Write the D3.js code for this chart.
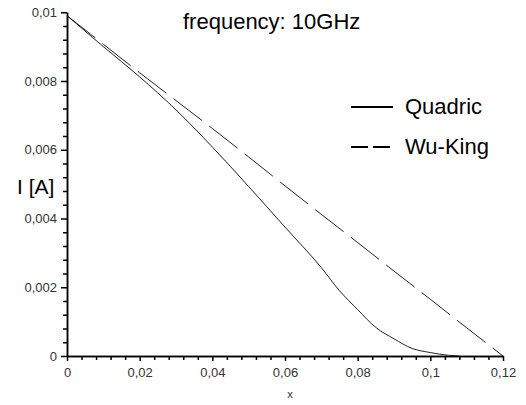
<!DOCTYPE html>
<html>
<head>
<meta charset="utf-8">
<script src="https://cdn.jsdelivr.net/npm/d3@7"></script>
<style>
  body { margin: 0; background: #fff; }
  svg { display: block; font-family: "Liberation Sans", Arial, sans-serif; }
</style>
</head>
<body>
<div id="chart"></div>
<script>
// values
const quadricX = [0, 0.01, 0.02, 0.03, 0.04, 0.05, 0.06, 0.07, 0.075, 0.08, 0.085, 0.09, 0.095, 0.1, 0.105, 0.108];
const quadricI = [0.0099, 0.0090, 0.00812, 0.00716, 0.00608, 0.00493, 0.00375, 0.00257, 0.0019, 0.00135, 0.00083, 0.0005, 0.00022, 0.0001, 0.00002, 0];
const wuKingX = [0, 0.01, 0.02, 0.03, 0.04, 0.05, 0.06, 0.07, 0.08, 0.09, 0.1, 0.11, 0.12];
const wuKingI = [0.0099, 0.00907, 0.00824, 0.00743, 0.00662, 0.00579, 0.00495, 0.00412, 0.0033, 0.00247, 0.00165, 0.00082, 0];
const xTicks = [0, 0.02, 0.04, 0.06, 0.08, 0.1, 0.12];
const xTickLabels = ['0', '0,02', '0,04', '0,06', '0,08', '0,1', '0,12'];
const yTicks = [0, 0.002, 0.004, 0.006, 0.008, 0.01];
const yTickLabels = ['0', '0,002', '0,004', '0,006', '0,008', '0,01'];
const seriesNames = ['Quadric', 'Wu-King'];

const width = 526;
const height = 405;

const svg = d3
  .select('#chart')
  .append('svg')
  .attr('width', width)
  .attr('height', height);

const xScale = d3.scaleLinear().domain([0, 0.12]).range([67, 503]);
const yScale = d3.scaleLinear().domain([0, 0.01]).range([356, 12.25]);

// minor ticks: 4 between each major
const xMinor = d3.range(0, 0.1201, 0.004).filter((v) => Math.abs(v / 0.02 - Math.round(v / 0.02)) > 1e-6);
const yMinor = d3.range(0, 0.01001, 0.0004).filter((v) => Math.abs(v / 0.002 - Math.round(v / 0.002)) > 1e-6);

function styleAxis(g) {
  g.select('.domain').attr('stroke', '#000').attr('stroke-width', 1.5);
  g.selectAll('.tick line').attr('stroke', '#000').attr('stroke-width', 1.5);
  g.selectAll('.tick text').attr('fill', '#333').style('font-size', '13px').style('font-family', '"Liberation Sans", Arial, sans-serif');
}

svg
  .append('g')
  .attr('transform', `translate(0,${yScale(0)})`)
  .call(d3.axisBottom(xScale).tickValues(xMinor).tickSize(4).tickSizeOuter(0).tickFormat(''))
  .call(styleAxis);

svg
  .append('g')
  .attr('transform', `translate(0,${yScale(0)})`)
  .call(
    d3
      .axisBottom(xScale)
      .tickValues(xTicks)
      .tickSize(5)
      .tickSizeOuter(0)
      .tickPadding(7)
      .tickFormat((d, i) => xTickLabels[i])
  )
  .call(styleAxis);

svg
  .append('g')
  .attr('transform', `translate(${xScale(0)},0)`)
  .call(d3.axisLeft(yScale).tickValues(yMinor).tickSize(4).tickSizeOuter(0).tickFormat(''))
  .call(styleAxis);

svg
  .append('g')
  .attr('transform', `translate(${xScale(0)},0)`)
  .call(
    d3
      .axisLeft(yScale)
      .tickValues(yTicks)
      .tickSize(6)
      .tickSizeOuter(0)
      .tickPadding(4)
      .tickFormat((d, i) => yTickLabels[i])
  )
  .call(styleAxis);

const line = d3
  .line()
  .curve(d3.curveMonotoneX)
  .x((d) => xScale(d[0]))
  .y((d) => yScale(d[1]));

svg
  .append('path')
  .datum(d3.zip(quadricX, quadricI))
  .attr('fill', 'none')
  .attr('stroke', '#222')
  .attr('stroke-width', 1)
  .attr('d', line);

svg
  .append('path')
  .datum(d3.zip(wuKingX, wuKingI))
  .attr('fill', 'none')
  .attr('stroke', '#222')
  .attr('stroke-width', 1)
  .attr('stroke-dasharray', '36,9')
  .attr('d', line);

// title
svg
  .append('text')
  .attr('x', 183)
  .attr('y', 29)
  .style('font-size', '22px')
  .style('fill', '#000')
  .text('frequency: 10GHz');

// legend
const legend = svg.append('g');
seriesNames.forEach((name, i) => {
  const ly = 107 + i * 40;
  legend
    .append('line')
    .attr('x1', 351)
    .attr('x2', 393)
    .attr('y1', ly)
    .attr('y2', ly)
    .attr('stroke', '#000')
    .attr('stroke-width', 2)
    .attr('stroke-dasharray', i === 1 ? '17,5' : null);
  legend
    .append('text')
    .attr('x', 405)
    .attr('y', ly + 7)
    .style('font-size', '22px')
    .style('fill', '#000')
    .text(name);
});

// axis titles
svg
  .append('text')
  .attr('x', 17)
  .attr('y', 194)
  .style('font-size', '21px')
  .style('fill', '#000')
  .text('I [A]');

svg
  .append('text')
  .attr('x', (xScale(0) + xScale(0.12)) / 2 + 5)
  .attr('y', 398)
  .attr('text-anchor', 'middle')
  .style('font-size', '11px')
  .style('fill', '#333')
  .text('x');
</script>
</body>
</html>
